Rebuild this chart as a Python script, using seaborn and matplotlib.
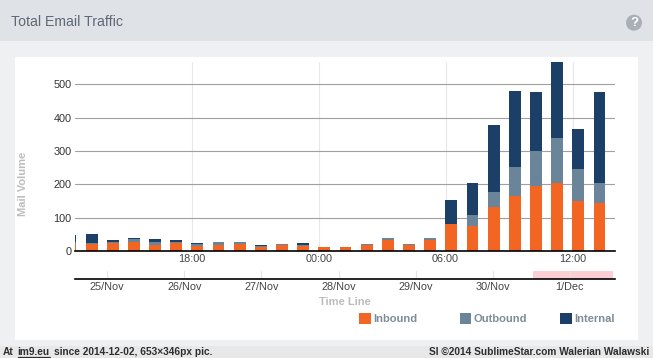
import numpy as np
import pandas as pd
import matplotlib
matplotlib.use('Agg')
import matplotlib.pyplot as plt
from matplotlib.patches import Rectangle, Circle
from matplotlib.lines import Line2D
import seaborn as sns

# values, one bar per hour
inbound = [22, 20, 25, 26, 17, 25, 14, 17, 20, 13, 17, 16, 11, 12, 19, 34, 19, 33,
           80, 76, 132, 165, 196, 203, 150, 145]
outbound = [4, 4, 3, 9, 10, 3, 6, 9, 6, 2, 3, 1, 1, 0, 3, 4, 2, 5,
            0, 32, 45, 87, 104, 136, 96, 59]
internal = [22, 26, 5, 3, 9, 5, 4, 1, 1, 2, 0, 6, 1, 0, 0, 0, 0, 0,
            74, 97, 201, 228, 178, 231, 119, 274]
hours = [12.27 + i for i in range(26)]

hour_ticks = [18, 24, 30, 36]
hour_labels = ['18:00', '00:00', '06:00', '12:00']
y_ticks = [0, 100, 200, 300, 400, 500]
day_labels = ['25/Nov', '26/Nov', '27/Nov', '28/Nov', '29/Nov', '30/Nov', '1/Dec']
series_names = ['Inbound', 'Outbound', 'Internal']
series_colors = ['#f26522', '#6a8499', '#1b3f66']

W, H = 653, 358
FONT = 'Liberation Sans'

sns.set_theme(style='white')
plt.rcParams['font.family'] = [FONT, 'DejaVu Sans']


def fx(px):
    return px / W


def fy(py):
    return 1 - py / H


def box(px0, py0, px1, py1):
    return [fx(px0), fy(py1), (px1 - px0) / W, (py1 - py0) / H]


def panel(px0, py0, px1, py1, color):
    fig.add_artist(Rectangle((fx(px0), fy(py1)), (px1 - px0) / W, (py1 - py0) / H,
                             transform=fig.transFigure, color=color, lw=0, zorder=-5))


fig = plt.figure(figsize=(W / 100, H / 100), dpi=100, facecolor='#eef0f2')

panel(0, 0, W, 41, '#dfe2e6')
panel(15, 57, 638, 340, '#ffffff')
panel(0, 346, W, H, '#e8e8e8')
panel(0, 340, W, 346, '#eef0f2')

fig.text(fx(11), fy(22), 'Total Email Traffic', fontsize=10.2, color='#5f6875', va='center')

# help icon
fig.add_artist(Circle((6.34, H / 100 - 0.227), 0.08, transform=fig.dpi_scale_trans,
                      color='#a9afb6', lw=0))
fig.text(fx(634), fy(22.7), '?', fontsize=9.5, color='white', weight='bold', ha='center',
         va='center')

# main chart
ax = fig.add_axes(box(75, 62, 615, 251), facecolor='none')
df = pd.DataFrame({'hour': hours, 'Inbound': inbound, 'Outbound': outbound, 'Internal': internal})
df['in_out'] = df['Inbound'] + df['Outbound']
df['total'] = df['in_out'] + df['Internal']

# stacked by drawing the totals back to front
for col, color in [('total', series_colors[2]), ('in_out', series_colors[1]),
                   ('Inbound', series_colors[0])]:
    sns.barplot(data=df, x='hour', y=col, native_scale=True, color=color, saturation=1,
                width=0.56, errorbar=None, ax=ax, zorder=3, linewidth=0)

ax.set_xlim(18 + (75 - 191.7) / 21.16, 18 + (615 - 191.7) / 21.16)
ax.set_ylim(0, 567)
ax.set_xticks(hour_ticks, hour_labels)
ax.set_yticks(y_ticks)
ax.set_xlabel('')
ax.set_ylabel('')
for v in y_ticks[1:]:
    ax.axhline(v, color='#a0a0a0', lw=0.8, zorder=1)
for v in hour_ticks:
    ax.axvline(v, color='#e8e8e8', lw=0.8, zorder=0)
ax.tick_params(axis='x', length=0, pad=2.5, labelsize=7.8, labelcolor='#444444')
ax.tick_params(axis='y', length=0, pad=2.5, labelsize=7.8, labelcolor='#333333')
sns.despine(ax=ax, left=True, top=True, right=True)
ax.spines['bottom'].set_color('black')
ax.spines['bottom'].set_linewidth(1.2)
ax.spines['bottom'].set_zorder(5)

# time line strip below
ax2 = fig.add_axes(box(75, 271, 615, 279), facecolor='none')
ax2.set_xlim((75 - 107.3) / 77.1, (615 - 107.3) / 77.1)
ax2.set_ylim(0, 1)
ax2.axvspan((533 - 107.3) / 77.1, (613 - 107.3) / 77.1, color='#fbcfd3', lw=0, zorder=0)
ax2.set_xticks(range(len(day_labels)), day_labels)
ax2.set_yticks([])
for i in range(len(day_labels)):
    ax2.axvline(i, color='#e4e4e4', lw=0.8, zorder=1)
ax2.tick_params(axis='x', length=0, pad=2.5, labelsize=7.8, labelcolor='#444444')
sns.despine(ax=ax2, left=True, top=True, right=True)
ax2.spines['bottom'].set_color('black')
ax2.spines['bottom'].set_linewidth(1.2)

fig.text(fx(23), fy(184), 'Mail Volume', rotation=90, fontsize=8, weight='bold', color='#bdbdbd',
         ha='center', va='center')
fig.text(fx(345), fy(302), 'Time Line', fontsize=8, weight='bold', color='#bdbdbd', ha='center',
         va='center')

# legend, columns are fixed width in the original
for name, color, px in zip(series_names, series_colors, [359, 459.5, 560]):
    fig.add_artist(Rectangle((fx(px), fy(324)), 11.5 / W, 11.5 / H, transform=fig.transFigure,
                             color=color, lw=0))
    fig.text(fx(px + 14), fy(318.5), name, fontsize=8, weight='bold', color='#7f8c99', va='center')

# footer
foot = dict(fontsize=7.3, weight='bold', color='#2e2e2e', va='center', family='Liberation Sans')
fig.text(fx(2.5), fy(352), 'At', **foot)
fig.text(fx(17.5), fy(352), 'im9.eu', **foot)
fig.add_artist(Line2D([fx(17.5), fx(50)], [fy(357), fy(357)], transform=fig.transFigure,
                      color='#2e2e2e', lw=0.9))
fig.text(fx(54), fy(352), 'since 2014-12-02, 653×346px pic.', **foot)
fig.text(fx(649), fy(352), 'SI ©2014 SublimeStar.com Walerian Walawski', ha='right', **foot)

fig.savefig('out.png', dpi=100, facecolor=fig.get_facecolor())
